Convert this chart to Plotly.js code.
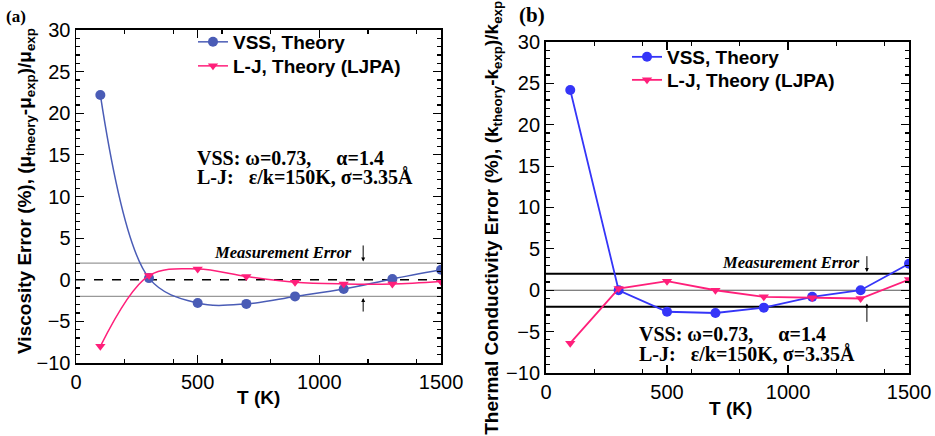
<!DOCTYPE html>
<html><head><meta charset="utf-8">
<script src="https://cdn.plot.ly/plotly-3.0.1.min.js"></script>
<style>html,body{margin:0;padding:0;background:#fff;}#chart{width:935px;height:436px;}</style>
</head><body><div id="chart"></div>
<script>
// ---- data ----
const temperatures = [100, 300, 500, 700, 900, 1100, 1300, 1500];
const viscVSS = [22.2, 0.2, -2.8, -2.9, -2.0, -1.1, 0.1, 1.2];
const viscLJ  = [-8.0, 0.5, 1.3, 0.4, -0.3, -0.5, -0.5, -0.2];
const condVSS = [24.2, 0.0, -2.6, -2.75, -2.1, -0.8, 0.0, 3.2];
const condLJ  = [-6.4, 0.2, 1.1, 0.0, -0.8, -0.9, -1.0, 1.3];
const seriesNames = ["VSS, Theory", "L-J, Theory (LJPA)"];
const measurementBand = [-2, 2];
const xRange = [0, 1500];
const yRange = [-10, 30];

const pink = "#ff1f7a";
const blueA = "#4a5cb6";
const blueB = "#3535f8";

const traces = [
  {x: temperatures, y: viscVSS, name: seriesNames[0], xaxis: "x", yaxis: "y", legend: "legend",
   mode: "lines+markers", line: {color: blueA, width: 1.5, shape: "spline", smoothing: 1.0},
   marker: {symbol: "circle", size: 10, color: blueA}},
  {x: temperatures, y: viscLJ, name: seriesNames[1], xaxis: "x", yaxis: "y", legend: "legend2",
   mode: "lines+markers", line: {color: pink, width: 1.5, shape: "spline", smoothing: 1.0},
   marker: {symbol: "triangle-down", size: 9, color: pink}},
  {x: temperatures, y: condVSS, name: seriesNames[0], xaxis: "x2", yaxis: "y2", legend: "legend3",
   mode: "lines+markers", line: {color: blueB, width: 1.8},
   marker: {symbol: "circle", size: 10, color: blueB}},
  {x: temperatures, y: condLJ, name: seriesNames[1], xaxis: "x2", yaxis: "y2", legend: "legend4",
   mode: "lines+markers", line: {color: pink, width: 1.8},
   marker: {symbol: "triangle-down", size: 9, color: pink}}
];

const sans = "Liberation Sans, Arial, sans-serif";
const serif = "Liberation Serif, Times New Roman, serif";
const tickFont = {family: sans, size: 20, color: "#000"};
const titleFont = {family: sans, size: 19, color: "#000"};

function xax(domain, anchor, lw) {
  return {domain: domain, anchor: anchor, range: xRange, dtick: 500, tick0: 0,
    ticks: "inside", ticklen: 8, tickwidth: 1.2, tickcolor: "#000",
    showline: true, linecolor: "#000", linewidth: lw, mirror: "ticks",
    showgrid: false, zeroline: false, tickfont: tickFont,
    minor: {dtick: 200, tick0: 0, ticks: "inside", ticklen: 4, tickcolor: "#000", showgrid: false},
    automargin: false};
}
function yax(domain, anchor, lw) {
  return {domain: domain, anchor: anchor, range: yRange, dtick: 5, tick0: 0,
    ticks: "inside", ticklen: 8, tickwidth: 1.2, tickcolor: "#000",
    showline: true, linecolor: "#000", linewidth: lw, mirror: "ticks",
    showgrid: false, zeroline: false, tickfont: tickFont,
    minor: {dtick: 1, tick0: 0, ticks: "inside", ticklen: 4, tickcolor: "#000", showgrid: false},
    automargin: false};
}

const nb = "\u00A0";
const paramLine1 = "<b>VSS: ω=0.73," + nb.repeat(5) + "α=1.4</b>";
const paramLine2 = "<b>L-J:" + nb.repeat(3) + "ε/k=150K, σ=3.35Å</b>";

function hline(xr, yr, y, color, width, dash) {
  return {type: "line", xref: xr, yref: yr, x0: xRange[0], x1: xRange[1], y0: y, y1: y,
    line: {color: color, width: width, dash: dash || "solid"}, layer: "below"};
}
function arrow(xr, yr, x, yHead, yTail) {
  return {xref: xr, yref: yr, axref: xr, ayref: yr, x: x, y: yHead, ax: x, ay: yTail,
    text: "", showarrow: true, arrowhead: 2, arrowsize: 0.8, arrowwidth: 1, arrowcolor: "#000"};
}
function txt(xr, yr, x, y, text, font, xanchor) {
  return {xref: xr, yref: yr, x: x, y: y, xanchor: xanchor || "left", yanchor: "middle",
    align: "left", showarrow: false, text: text, font: font};
}
function leg(x, y) {
  return {x: x, y: y, xanchor: "left", yanchor: "middle", bgcolor: "rgba(0,0,0,0)",
    font: {family: sans, size: 19, color: "#000", weight: "bold"}};
}

const paramFont = {family: serif, size: 20, color: "#000"};
const measFont = {family: serif, size: 16.5, color: "#000"};

const layout = {
  width: 935, height: 436, margin: {l: 0, r: 0, t: 0, b: 0},
  paper_bgcolor: "#fff", plot_bgcolor: "#fff", showlegend: true,
  xaxis: xax([0.0813, 0.4717], "y", 1.5),
  yaxis: yax([0.1674, 0.9312], "x", 1.5),
  xaxis2: xax([0.5840, 0.9722], "y2", 2),
  yaxis2: yax([0.1445, 0.9037], "x2", 2),
  legend: leg(0.2064, 0.9037),
  legend2: leg(0.2064, 0.8486),
  legend3: leg(0.6706, 0.8693),
  legend4: leg(0.6706, 0.8165),
  shapes: [
    hline("x", "y", measurementBand[1], "#999", 1.2),
    hline("x", "y", measurementBand[0], "#999", 1.2),
    hline("x", "y", 0, "#000", 1.5, "dash"),
    hline("x2", "y2", measurementBand[1], "#000", 2),
    hline("x2", "y2", measurementBand[0], "#000", 2),
    hline("x2", "y2", 0, "#555", 1)
  ],
  annotations: [
    {xref: "paper", yref: "paper", x: 0.0278, y: 0.562, xanchor: "center", yanchor: "middle", textangle: -90,
     showarrow: false, font: titleFont,
     text: "<b>Viscosity Error (%), (μ<sub>theory</sub>-μ<sub>exp</sub>)/μ<sub>exp</sub></b>"},
    {xref: "paper", yref: "paper", x: 0.527, y: 0.5, xanchor: "center", yanchor: "middle", textangle: -90,
     showarrow: false, font: titleFont,
     text: "<b>Thermal Conductivity Error (%), (k<sub>theory</sub>-k<sub>exp</sub>)/k<sub>exp</sub></b>"},
    {xref: "paper", yref: "paper", x: 0.2765, y: 0.0894, xanchor: "center", yanchor: "middle",
     showarrow: false, font: titleFont, text: "<b>T (K)</b>"},
    {xref: "paper", yref: "paper", x: 0.7818, y: 0.0642, xanchor: "center", yanchor: "middle",
     showarrow: false, font: titleFont, text: "<b>T (K)</b>"},
    txt("paper", "paper", 0.004, 0.962, "<b>(a)</b>", {family: serif, size: 17, color: "#000"}),
    txt("paper", "paper", 0.553, 0.966, "<b>(b)</b>", {family: serif, size: 21, color: "#000"}),
    txt("x", "y", 489, 14.6, paramLine1, paramFont),
    txt("x", "y", 489, 12.35, paramLine2, paramFont),
    txt("x2", "y2", 376, -5.3, paramLine1, paramFont),
    txt("x2", "y2", 376, -7.7, paramLine2, paramFont),
    txt("x", "y", 1142, 3.3, "<i><b>Measurement Error</b></i>", measFont, "right"),
    txt("x2", "y2", 1306, 3.3, "<i><b>Measurement Error</b></i>", measFont, "right"),
    arrow("x", "y", 1180, 2.2, 4.3),
    arrow("x", "y", 1180, -2.2, -4.0),
    arrow("x2", "y2", 1326, 2.2, 4.3),
    arrow("x2", "y2", 1326, -1.6, -4.0)
  ]
};

Plotly.newPlot("chart", traces, layout, {displayModeBar: false, staticPlot: true});
</script></body></html>
